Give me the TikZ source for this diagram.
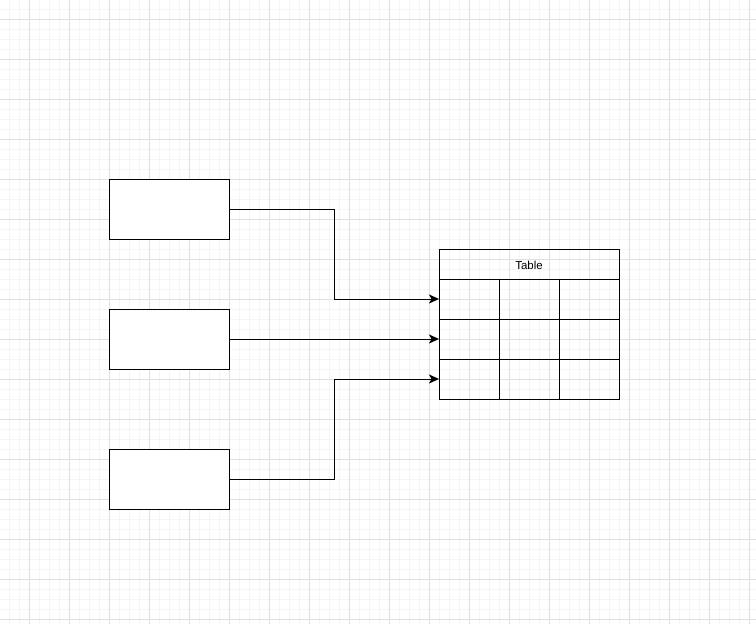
\documentclass[tikz,border=0pt]{standalone}
\usepackage{fontspec}
\setmainfont{Liberation Sans}
\usetikzlibrary{arrows.meta}
\definecolor{minorgrid}{HTML}{F5F5F5}
\definecolor{majorgrid}{HTML}{E0E0E0}
\begin{document}
\begin{tikzpicture}[x=1pt,y=-1pt,
  box/.style={draw=black,fill=white,line width=1pt},
  cellline/.style={draw=black,line width=1pt},
  conn/.style={draw=black,line width=1pt,-{Stealth[length=10pt,width=9pt,inset=2.5pt]}}]
\useasboundingbox (0,0) rectangle (756,624);
\fill[white] (0,0) rectangle (756,624);
% grid
\foreach \x in {9,19,...,749} \draw[minorgrid,line width=1pt] (\x,0) -- (\x,624);
\foreach \y in {9,19,...,619} \draw[minorgrid,line width=1pt] (0,\y) -- (756,\y);
\foreach \x in {29,69,...,749} \draw[majorgrid,line width=1pt] (\x,0) -- (\x,624);
\foreach \y in {19,59,...,619} \draw[majorgrid,line width=1pt] (0,\y) -- (756,\y);
% source boxes
\node[box,minimum width=120pt,minimum height=60pt,inner sep=0pt,outer sep=0pt] (b1) at (169,209) {};
\node[box,minimum width=120pt,minimum height=60pt,inner sep=0pt,outer sep=0pt] (b2) at (169,339) {};
\node[box,minimum width=120pt,minimum height=60pt,inner sep=0pt,outer sep=0pt] (b3) at (169,479) {};
% table
\node[draw=black,line width=1pt,minimum width=180pt,minimum height=30pt,inner sep=0pt,outer sep=0pt] (hdr) at (529,264) {};
\node[font=\fontsize{11.5pt}{13pt}\selectfont,inner sep=0pt] (hdrtext) at (529,265) {Table};
\node[draw=black,line width=1pt,minimum width=180pt,minimum height=120pt,inner sep=0pt,outer sep=0pt] (tbl) at (529,339) {};
\coordinate (r1) at (439,299);
\coordinate (r2) at (439,339);
\coordinate (r3) at (439,379);
\draw[cellline] (439,319) -- (619,319);
\draw[cellline] (439,359) -- (619,359);
\draw[cellline] (499,279) -- (499,399);
\draw[cellline] (559,279) -- (559,399);
% connectors
\draw[conn] (b1.east) -| (334,299) -- (r1);
\draw[conn] (b2.east) -- (r2);
\draw[conn] (b3.east) -| (334,379) -- (r3);
\end{tikzpicture}
\end{document}
